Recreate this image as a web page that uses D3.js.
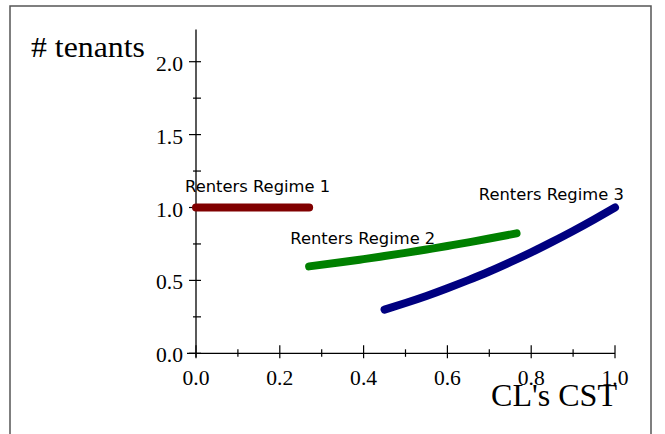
<!DOCTYPE html>
<html>
<head>
<meta charset="utf-8">
<script src="https://cdn.jsdelivr.net/npm/d3@7"></script>
<style>
  html, body { margin: 0; padding: 0; background: #fff; }
  svg { display: block; }
</style>
</head>
<body>
<script>
// ---- data ----
const regime1X = [0.0, 0.27];
const regime1Y = [1.0, 1.0];

const regime2X = [0.27, 0.35, 0.40, 0.45, 0.50, 0.55, 0.60, 0.65, 0.70, 0.765];
const regime2Y = [0.596, 0.626, 0.646, 0.667, 0.689, 0.712, 0.736, 0.761, 0.787, 0.823];

const regime3X = [0.45, 0.50, 0.55, 0.60, 0.65, 0.70, 0.75, 0.80, 0.85, 0.90, 0.95, 1.00];
const regime3Y = [0.300, 0.345, 0.393, 0.446, 0.502, 0.561, 0.625, 0.692, 0.764, 0.839, 0.918, 1.000];

const seriesNames = ["Renters Regime 1", "Renters Regime 2", "Renters Regime 3"];
const seriesColors = ["#800000", "#008000", "#000080"];
// label anchor points (data units)
const labelX = [-0.026, 0.225, 0.675];
const labelY = [1.107, 0.75, 1.053];

const xMajorTicks = [0.0, 0.2, 0.4, 0.6, 0.8, 1.0];
const xMinorTicks = [0.1, 0.3, 0.5, 0.7, 0.9];
const yMajorTicks = [0.0, 0.5, 1.0, 1.5, 2.0];
const yMinorTicks = [0.25, 0.75, 1.25, 1.75];

const xTitle = "CL's CST";
const yTitle = "# tenants";

// ---- drawing ----
const W = 665, H = 434;
const svg = d3.select("body").append("svg").attr("width", W).attr("height", H);

svg.append("rect").attr("x", 10).attr("y", 6).attr("width", 641).attr("height", 440)
  .attr("fill", "none").attr("stroke", "#555").attr("stroke-width", 1.5);

const x = d3.scaleLinear().domain([0, 1]).range([196, 615]);
const y = d3.scaleLinear().domain([0, 2]).range([353.3, 61.7]);
const yTop = 2.22;

const g = svg.append("g");

// axis lines
g.append("line").attr("x1", x(0) - 9).attr("x2", x(1)).attr("y1", y(0)).attr("y2", y(0))
  .attr("stroke", "#000").attr("stroke-width", 1.3);
g.append("line").attr("x1", x(0)).attr("x2", x(0)).attr("y1", y(yTop)).attr("y2", y(0) + 4)
  .attr("stroke", "#000").attr("stroke-width", 1.3);

// x ticks
g.selectAll(".xmaj").data(xMajorTicks).enter().append("line")
  .attr("x1", d => x(d)).attr("x2", d => x(d)).attr("y1", y(0) - 8).attr("y2", y(0) + 5)
  .attr("stroke", "#000").attr("stroke-width", 1.2);
g.selectAll(".xmin").data(xMinorTicks).enter().append("line")
  .attr("x1", d => x(d)).attr("x2", d => x(d)).attr("y1", y(0) - 4).attr("y2", y(0) + 3.5)
  .attr("stroke", "#000").attr("stroke-width", 1.2);
g.selectAll(".xlab").data(xMajorTicks).enter().append("text")
  .attr("x", d => x(d)).attr("y", y(0) + 32)
  .attr("text-anchor", "middle")
  .attr("font-family", "'Liberation Serif', 'Times New Roman', serif")
  .attr("font-size", 20)
  .attr("textLength", 27).attr("lengthAdjust", "spacingAndGlyphs")
  .text(d => d.toFixed(1));

// y ticks
g.selectAll(".ymaj").data(yMajorTicks).enter().append("line")
  .attr("x1", x(0) - 7).attr("x2", x(0) + 5).attr("y1", d => y(d)).attr("y2", d => y(d))
  .attr("stroke", "#000").attr("stroke-width", 1.2);
g.selectAll(".ymin").data(yMinorTicks).enter().append("line")
  .attr("x1", x(0) - 3).attr("x2", x(0) + 5).attr("y1", d => y(d)).attr("y2", d => y(d))
  .attr("stroke", "#000").attr("stroke-width", 1.2);
g.selectAll(".ylab").data(yMajorTicks).enter().append("text")
  .attr("x", x(0) - 13).attr("y", d => y(d) + 9)
  .attr("text-anchor", "end")
  .attr("font-family", "'Liberation Serif', 'Times New Roman', serif")
  .attr("font-size", 20)
  .attr("textLength", 27).attr("lengthAdjust", "spacingAndGlyphs")
  .text(d => d.toFixed(1));

// curves
const seriesData = [
  regime1X.map((v, i) => [v, regime1Y[i]]),
  regime2X.map((v, i) => [v, regime2Y[i]]),
  regime3X.map((v, i) => [v, regime3Y[i]])
];
const line = d3.line().x(d => x(d[0])).y(d => y(d[1])).curve(d3.curveNatural);
g.selectAll(".curve").data(seriesData).enter().append("path")
  .attr("d", line)
  .attr("fill", "none")
  .attr("stroke", (d, i) => seriesColors[i])
  .attr("stroke-width", 8)
  .attr("stroke-linecap", "round")
  .attr("stroke-linejoin", "round");

// series labels
g.selectAll(".slab").data(seriesNames).enter().append("text")
  .attr("x", (d, i) => x(labelX[i]))
  .attr("y", (d, i) => y(labelY[i]))
  .attr("font-family", "'DejaVu Sans', sans-serif")
  .attr("font-size", 16)
  .attr("textLength", 145).attr("lengthAdjust", "spacingAndGlyphs")
  .attr("fill", "#000")
  .text(d => d);

// axis titles
svg.append("text").attr("x", 31).attr("y", 57)
  .attr("font-family", "'Liberation Serif', 'Times New Roman', serif")
  .attr("font-size", 29)
  .attr("textLength", 114).attr("lengthAdjust", "spacingAndGlyphs")
  .text(yTitle);
svg.append("text").attr("x", 491).attr("y", 406)
  .attr("font-family", "'Liberation Serif', 'Times New Roman', serif")
  .attr("font-size", 32)
  .attr("textLength", 126).attr("lengthAdjust", "spacingAndGlyphs")
  .text(xTitle);
</script>
</body>
</html>
